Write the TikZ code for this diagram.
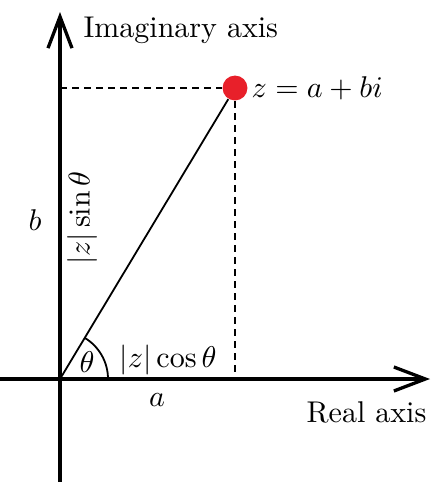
\documentclass[tikz,border=0pt]{standalone}
\usetikzlibrary{arrows.meta}
\definecolor{zred}{HTML}{E8202A}
\begin{document}
\begin{tikzpicture}[x=0.3333pt,y=-0.3333pt,
  axis/.style={line width=1.1pt,-{Straight Barb[length=10.5pt,width=8pt,line width=1.1pt]}},
  dashline/.style={line width=0.5pt,dash pattern=on 2.4pt off 1.6pt},
  thin line/.style={line width=0.6pt},
  lbl/.style={inner sep=0pt}]
\useasboundingbox (0,0) rectangle (440,482);
\coordinate (O) at (60,379);
\coordinate (ybot) at (60,482);
\coordinate (ytop) at (60,12);
\coordinate (xl) at (0,379);
\coordinate (xr) at (430,379);
\coordinate (A) at (235,379);
\coordinate (B) at (60,88);
\node[circle,fill=zred,minimum size=8.3pt,inner sep=0pt] (P) at (235,88) {};
\draw[axis] (ybot) -- (ytop);
\draw[axis] (xl) -- (xr);
\draw[dashline] (B) -- (P);
\draw[dashline] (P) -- (A);
\draw[thin line] (O) -- (P);
\draw[thin line] (O) ++(16pt,0) arc[start angle=0,end angle=59,radius=16pt];
\node[lbl] (th) at (87,362) {$\theta$};
\node[lbl] (zc) at (168,360) {$|z|\cos\theta$};
\node[lbl] (a) at (157,400) {$a$};
\node[lbl,anchor=east] (re) at (427,412) {Real axis};
\node[lbl,anchor=west] (im) at (83,30) {Imaginary axis};
\node[anchor=west,inner sep=1pt] (zl) at (P.east) {$z = a+bi$};
\node[lbl] (b) at (35,220) {$b$};
\node[lbl,rotate=90] (zs) at (82,218) {$|z|\sin\theta$};
\end{tikzpicture}
\end{document}
